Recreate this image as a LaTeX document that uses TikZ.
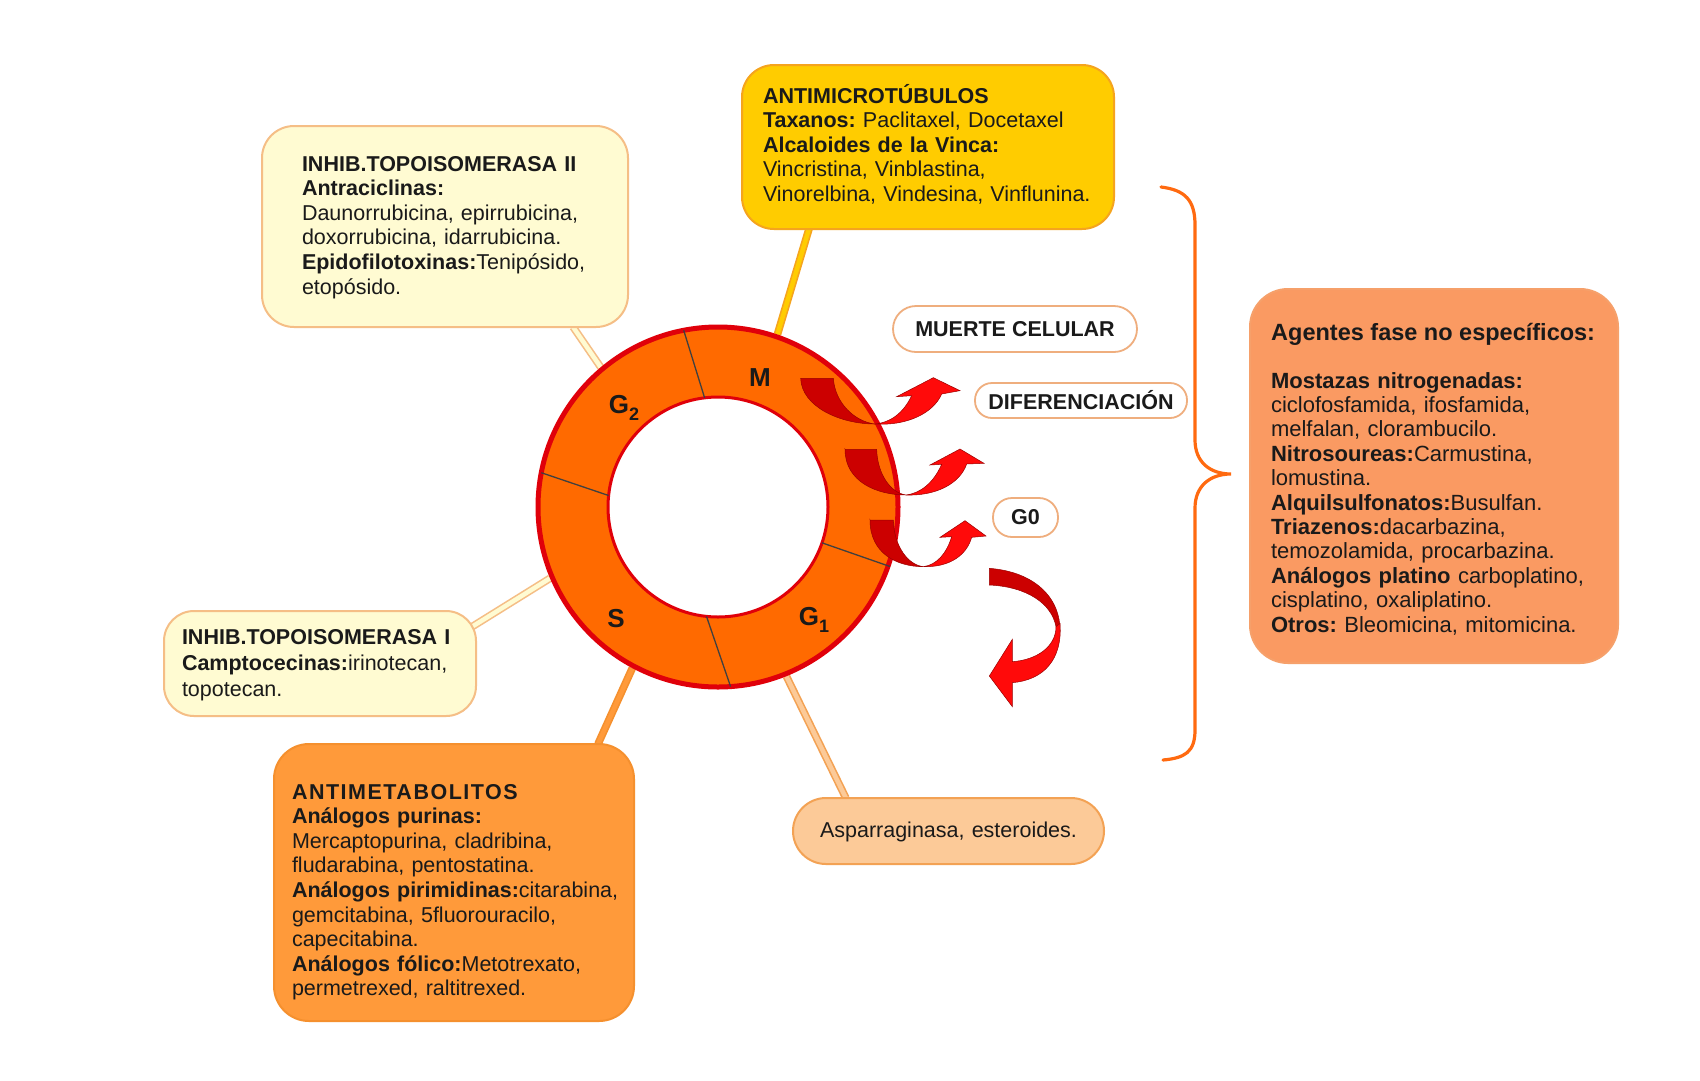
\documentclass[tikz,border=0pt]{standalone}
\usepackage{fontspec}
\setmainfont{Liberation Sans}
\usetikzlibrary{calc,backgrounds}
\frenchspacing
\definecolor{ringfill}{HTML}{FF6A00}
\definecolor{ringedge}{HTML}{E0000A}
\definecolor{paleY}{HTML}{FFFBD2}
\definecolor{paleYedge}{HTML}{F5BE86}
\definecolor{gold}{HTML}{FFCC00}
\definecolor{goldedge}{HTML}{F5A41E}
\definecolor{salmon}{HTML}{FA9A62}
\definecolor{salmonedge}{HTML}{F6A06A}
\definecolor{orng}{HTML}{FF9A3A}
\definecolor{orngedge}{HTML}{F5902E}
\definecolor{peach}{HTML}{FCCA98}
\definecolor{peachedge}{HTML}{F3A254}
\definecolor{pilledge}{HTML}{EFAE7E}
\definecolor{brk}{HTML}{FF6A10}
\definecolor{arrbright}{HTML}{FF0A0A}
\definecolor{arrdark}{HTML}{CC0000}
\definecolor{arredge}{HTML}{9A0000}
\definecolor{txt}{HTML}{1A1A1A}
\begin{document}
\frenchspacing
\begin{tikzpicture}[x=1pt,y=-1pt,
  box/.style={draw, line width=2, inner sep=0, outer sep=0},
  pill/.style={draw=pilledge, fill=white, line width=1.8, inner sep=0, font=\fontsize{21.5}{24}\selectfont\bfseries, text=txt},
  body/.style={anchor=base west, inner sep=0, outer sep=0, align=left, text width=420, font=\fontsize{21.5}{24.6}\selectfont\frenchspacing, text=txt},
  phase/.style={font=\fontsize{26}{26}\selectfont\bfseries, inner sep=0, text=txt},
  conn/.style={line width=1.6, double distance=4.5},
  divider/.style={line width=1.3, draw=black!75},
  arrd/.style={fill=arrdark, draw=arredge, line width=0.5},
  arrb/.style={fill=arrbright, draw=arredge, line width=0.5},
]
\useasboundingbox (0,0) rectangle (1700,1080);

% boxes
\node[box, draw=paleYedge, fill=paleY, rounded corners=32, minimum width=366, minimum height=201] (topo2) at (445,226.5) {};
\node[box, draw=goldedge, fill=gold, rounded corners=32, minimum width=372, minimum height=164] (amc) at (928,147) {};
\node[box, draw=salmonedge, fill=salmon, rounded corners=38, minimum width=368, minimum height=374] (agentes) at (1434,476) {};
\node[box, draw=paleYedge, fill=paleY, rounded corners=30, minimum width=312, minimum height=105] (topo1) at (320,663.5) {};
\node[box, draw=orngedge, fill=orng, rounded corners=35, minimum width=360, minimum height=277] (antmet) at (454,882.5) {};
\node[box, draw=peachedge, fill=peach, rounded corners=33, minimum width=311, minimum height=66] (asp) at (948.5,831) {};

% texts
\node[body] (topo2t) at (302,171) {\textbf{INHIB.TOPOISOMERASA II}\\
\textbf{Antraciclinas:}\\
Daunorrubicina, epirrubicina,\\
doxorrubicina, idarrubicina.\\
\textbf{Epidofilotoxinas:}Tenipósido,\\
etopósido.};
\node[body] (amct) at (763,103) {\textbf{ANTIMICROTÚBULOS}\\
\textbf{Taxanos:} Paclitaxel, Docetaxel\\
\textbf{Alcaloides de la Vinca:}\\
Vincristina, Vinblastina,\\
Vinorelbina, Vindesina, Vinflunina.};
\node[anchor=base west, inner sep=0, font=\fontsize{23.5}{26}\selectfont\bfseries, text=txt] (agh) at (1271,340) {Agentes fase no específicos:};
\node[body, font=\fontsize{22}{24.4}\selectfont\frenchspacing] (agt) at (1271,388) {\textbf{Mostazas nitrogenadas:}\\
ciclofosfamida, ifosfamida,\\
melfalan, clorambucilo.\\
\textbf{Nitrosoureas:}Carmustina,\\
lomustina.\\
\textbf{Alquilsulfonatos:}Busulfan.\\
\textbf{Triazenos:}dacarbazina,\\
temozolamida, procarbazina.\\
\textbf{Análogos platino} carboplatino,\\
cisplatino, oxaliplatino.\\
\textbf{Otros:} Bleomicina, mitomicina.};
\node[body, font=\fontsize{21.5}{26}\selectfont\frenchspacing] (topo1t) at (182,644) {\textbf{INHIB.TOPOISOMERASA I}\\
\textbf{Camptocecinas:}irinotecan,\\
topotecan.};
\node[body] (antmett) at (292,799) {\textbf{\addfontfeature{LetterSpace=7}ANTIMETABOLITOS}\\
\textbf{Análogos purinas:}\\
Mercaptopurina, cladribina,\\
fludarabina, pentostatina.\\
\textbf{Análogos pirimidinas:}citarabina,\\
gemcitabina, 5fluorouracilo,\\
capecitabina.\\
\textbf{Análogos fólico:}Metotrexato,\\
permetrexed, raltitrexed.};
\node[body] (aspt) at (820,837) {Asparraginasa, esteroides.};

% pills
\node[pill, rounded corners=23, minimum width=244, minimum height=46] (muerte) at (1015,329) {MUERTE CELULAR};
\node[pill, rounded corners=17, minimum width=212, minimum height=35] (dif) at (1081,400.5) {DIFERENCIACIÓN};
\node[pill, rounded corners=19, minimum width=65, minimum height=39] (g0) at (1025.5,517.5) {G0};

% ring
\node[circle, draw=ringedge, fill=ringfill, line width=5, minimum size=360, inner sep=0] (ring) at (718,507) {};
\node[circle, draw=ringedge, fill=white, line width=3, minimum size=220, inner sep=0] (hole) at (718,507) {};
\draw[divider] (704.6,397.8) -- (683.7,330.3);
\draw[divider] (608.6,495.5) -- (541.3,472.7);
\draw[divider] (822,542.8) -- (890,566.5);
\draw[divider] (706.5,616.4) -- (730.6,686.6);
\node[phase] (lm) at (760,378) {M};
\node[phase] (lg2) at (624,408) {G\raisebox{-0.28em}{\fontsize{18}{18}\selectfont 2}};
\node[phase] (ls) at (616,619) {S};
\node[phase] (lg1) at (814,620) {G\raisebox{-0.28em}{\fontsize{18}{18}\selectfont 1}};

% connectors
\begin{scope}[on background layer]
\fill[white] (0,0) rectangle (1700,1080);
\draw[conn, draw=paleYedge, double=paleY] ($(topo2.south west)!0.85!(topo2.south east)$) -- (ring.130.5);
\draw[conn, draw=goldedge, double=gold] ($(amc.south west)!0.18!(amc.south east)$) -- (ring.71.7);
\draw[conn, draw=paleYedge, double=paleY] ($(topo1.north east)!0.15!(topo1.south east)+(-4,0)$) -- (ring.203);
\draw[conn, draw=orngedge, double=orng] ($(antmet.north west)!0.90!(antmet.north east)$) -- (ring.242);
\draw[conn, draw=peachedge, double=peach] ($(asp.north west)!0.17!(asp.north east)$) -- (ring.292);
\end{scope}

% curved arrows
\begin{scope}[shift={(780,300)}, scale=1/3]
\path[arrd] (62,235) -- (160,235) .. controls (165,310) and (225,365) .. (285,372) .. controls (180,372) and (65,320) .. cycle;
\path[arrb] (285,372) .. controls (380,378) and (460,340) .. (485,282) -- (540,272) -- (460,233) -- (350,290) -- (395,287) .. controls (370,340) and (330,368) .. (285,372) -- cycle;
\path[arrd] (195,448) -- (290,448) .. controls (292,520) and (330,578) .. (378,585) .. controls (290,585) and (195,545) .. cycle;
\path[arrb] (378,585) .. controls (470,588) and (540,550) .. (560,492) -- (612,490) -- (540,447) -- (450,495) -- (485,493) .. controls (460,550) and (420,580) .. (378,585) -- cycle;
\path[arrd] (270,660) -- (340,660) .. controls (342,740) and (385,795) .. (430,800) .. controls (350,800) and (270,760) .. cycle;
\path[arrb] (430,800) .. controls (510,802) and (560,765) .. (575,712) -- (618,708) -- (555,662) -- (480,712) -- (515,710) .. controls (500,760) and (470,795) .. (430,800) -- cycle;
\end{scope}
\begin{scope}[shift={(780,560)}, scale=1/3]
\path[arrd] (628,25) .. controls (760,35) and (842,110) .. (840,215) -- (828,200) .. controls (815,130) and (740,80) .. (628,75) -- cycle;
\path[arrb] (840,190) .. controls (848,300) and (790,360) .. (697,368) -- (697,440) -- (628,348) -- (697,238) -- (697,305) .. controls (770,300) and (828,260) .. (828,200) -- cycle;
\end{scope}

% brace
\draw[brk, line width=3.2, line cap=round] (1161,187) .. controls (1185,190) and (1195,200) .. (1195,225) -- (1195,440) .. controls (1195,462) and (1210,474) .. (1231,474) .. controls (1210,474) and (1195,486) .. (1195,508) -- (1195,730) .. controls (1195,752) and (1185,758) .. (1163,760);
\end{tikzpicture}
\end{document}
